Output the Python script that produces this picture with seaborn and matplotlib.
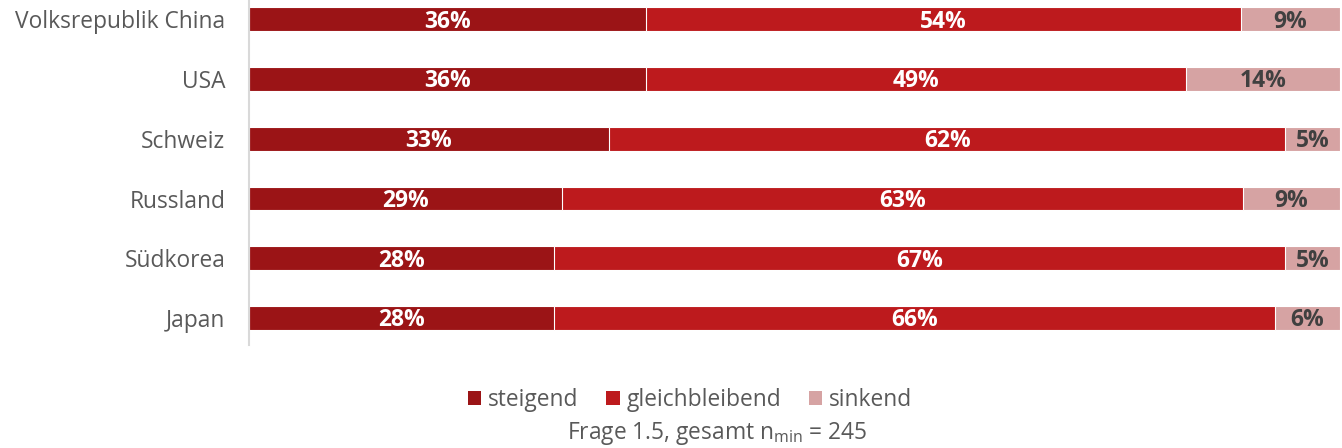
import numpy as np
import pandas as pd
import matplotlib
matplotlib.use("Agg")
import matplotlib.pyplot as plt
from matplotlib.patches import Patch
import seaborn as sns

countries = ["Volksrepublik China", "USA", "Schweiz", "Russland", "Südkorea", "Japan"]
steigend = [36, 36, 33, 29, 28, 28]
gleichbleibend = [54, 49, 62, 63, 67, 66]
sinkend = [9, 14, 5, 9, 5, 6]
series_names = ["steigend", "gleichbleibend", "sinkend"]
colors = ["#9B1416", "#BD1A1D", "#D6A3A3"]
label_colors = ["white", "white", "#404040"]

sns.set_theme(style="white")
plt.rcParams["font.family"] = ["Open Sans", "DejaVu Sans"]
plt.rcParams["mathtext.fontset"] = "custom"
plt.rcParams["mathtext.rm"] = "Open Sans"
plt.rcParams["mathtext.it"] = "Open Sans:italic"

vals = np.array([steigend, gleichbleibend, sinkend], dtype=float)
shares = vals / vals.sum(axis=0) * 100  # each row spans 100 %
cum = np.cumsum(shares, axis=0)

fig = plt.figure(figsize=(13.42, 4.48), dpi=100)
ax = fig.add_axes([249 / 1342, 1 - 345 / 448, (1340 - 249) / 1342, 345 / 448])

# stacked bars: draw cumulative totals from the longest to the shortest
for i in reversed(range(3)):
    df = pd.DataFrame({"land": countries, "wert": cum[i]})
    sns.barplot(data=df, x="wert", y="land", orient="y", color=colors[i],
                width=0.4, edgecolor="white", linewidth=0.8, saturation=1, ax=ax)

for i in range(3):
    starts = cum[i] - shares[i]
    for j in range(len(countries)):
        ax.text(starts[j] + shares[i][j] / 2, j + 0.04, f"{int(vals[i][j])}%",
                ha="center", va="center", fontsize=16.5, fontweight="bold",
                color=label_colors[i])

ax.set_xlim(0, 100)
ax.set_ylim(5.45, -0.32)
ax.set_xlabel("")
ax.set_ylabel("")
ax.set_xticks([])
ax.tick_params(axis="y", length=0, pad=17, labelsize=16.4, labelcolor="#595959")
for side in ["top", "right", "bottom"]:
    ax.spines[side].set_visible(False)
ax.spines["left"].set_color("#D9D9D9")
ax.spines["left"].set_linewidth(1.5)

handles = [Patch(facecolor=c, edgecolor="none") for c in colors]
fig.legend(handles, series_names, loc="center", bbox_to_anchor=(690 / 1342, 1 - 400 / 448),
           ncol=3, frameon=False, fontsize=16.4, handlelength=0.6, handleheight=0.6,
           handletextpad=0.3, columnspacing=1.2, labelcolor="#595959")

fig.text(717 / 1342, 1 - 433 / 448, r"Frage 1.5, gesamt n$_{\mathrm{min}}$ = 245",
         ha="center", va="center", fontsize=16.4, color="#595959")

fig.savefig("out.png", dpi=100)
